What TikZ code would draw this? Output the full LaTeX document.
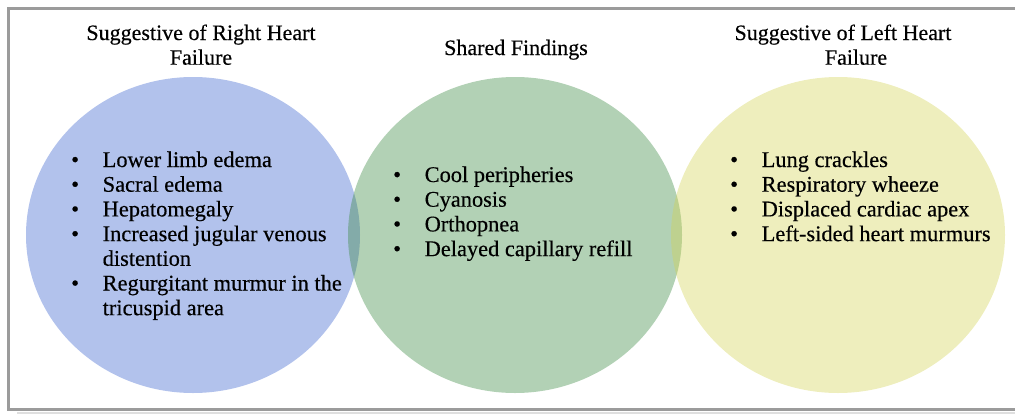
\documentclass[tikz,border=0pt]{standalone}
\usepackage{fontspec}
\setmainfont{Liberation Serif}[FakeBold=0.35]
\usetikzlibrary{shapes.geometric}

\definecolor{rightblue}{RGB}{53,95,205}
\definecolor{sharedgreen}{RGB}{53,134,60}
\definecolor{leftyellow}{RGB}{210,210,82}
\definecolor{framegray}{RGB}{155,155,155}

\tikzset{
  blob/.style={ellipse, minimum width=334pt, minimum height=316pt,
    inner sep=0pt, fill opacity=0.38},
  heading/.style={inner sep=0pt, anchor=base,
    font=\fontsize{22}{24.7}\selectfont},
  findings/.style={inner sep=0pt, anchor=base west,
    font=\fontsize{22.4}{24.7}\selectfont}
}
\newcommand{\findlist}[1]{\begin{tabular}[t]{@{}p{31.5pt}@{}l@{}}#1\end{tabular}}
\newcommand{\headlines}[1]{\begin{tabular}[t]{@{}c@{}}#1\end{tabular}}

\begin{document}
\begin{tikzpicture}[x=1pt, y=-1pt]
\useasboundingbox (0,0) rectangle (1015,416);

% frame
\draw [gray!25, line width=2pt] (17,413) -- (1030,413);
\draw [framegray, line width=2.5pt] (1030,8.5) -- (8.5,8.5) -- (8.5,409.5) -- (1030,409.5);

% the three circles
\node [blob, fill=rightblue] (rhf) at (193,235) {};
\node [blob, fill=sharedgreen] (shared) at (515,235) {};
\node [blob, fill=leftyellow] (lhf) at (838,235) {};

% headings
\node [heading] (rhftitle) at (201,40) {\headlines{Suggestive of Right Heart\\Failure}};
\node [heading] (sharedtitle) at (516,55) {\headlines{Shared Findings}};
\node [heading] (lhftitle) at (843,40) {\headlines{Suggestive of Left Heart\\\hspace*{26pt}Failure}};

% findings
\node [findings] (rhflist) at (71,167) {\findlist{
  \textbullet & Lower limb edema\\
  \textbullet & Sacral edema\\
  \textbullet & Hepatomegaly\\
  \textbullet & Increased jugular venous\\
              & distention\\
  \textbullet & Regurgitant murmur in the\\
              & tricuspid area}};
\node [findings] (sharedlist) at (393,182) {\findlist{
  \textbullet & Cool peripheries\\
  \textbullet & Cyanosis\\
  \textbullet & Orthopnea\\
  \textbullet & Delayed capillary refill}};
\node [findings] (lhflist) at (730,167) {\findlist{
  \textbullet & Lung crackles\\
  \textbullet & Respiratory wheeze\\
  \textbullet & Displaced cardiac apex\\
  \textbullet & Left-sided heart murmurs}};
\end{tikzpicture}
\end{document}
